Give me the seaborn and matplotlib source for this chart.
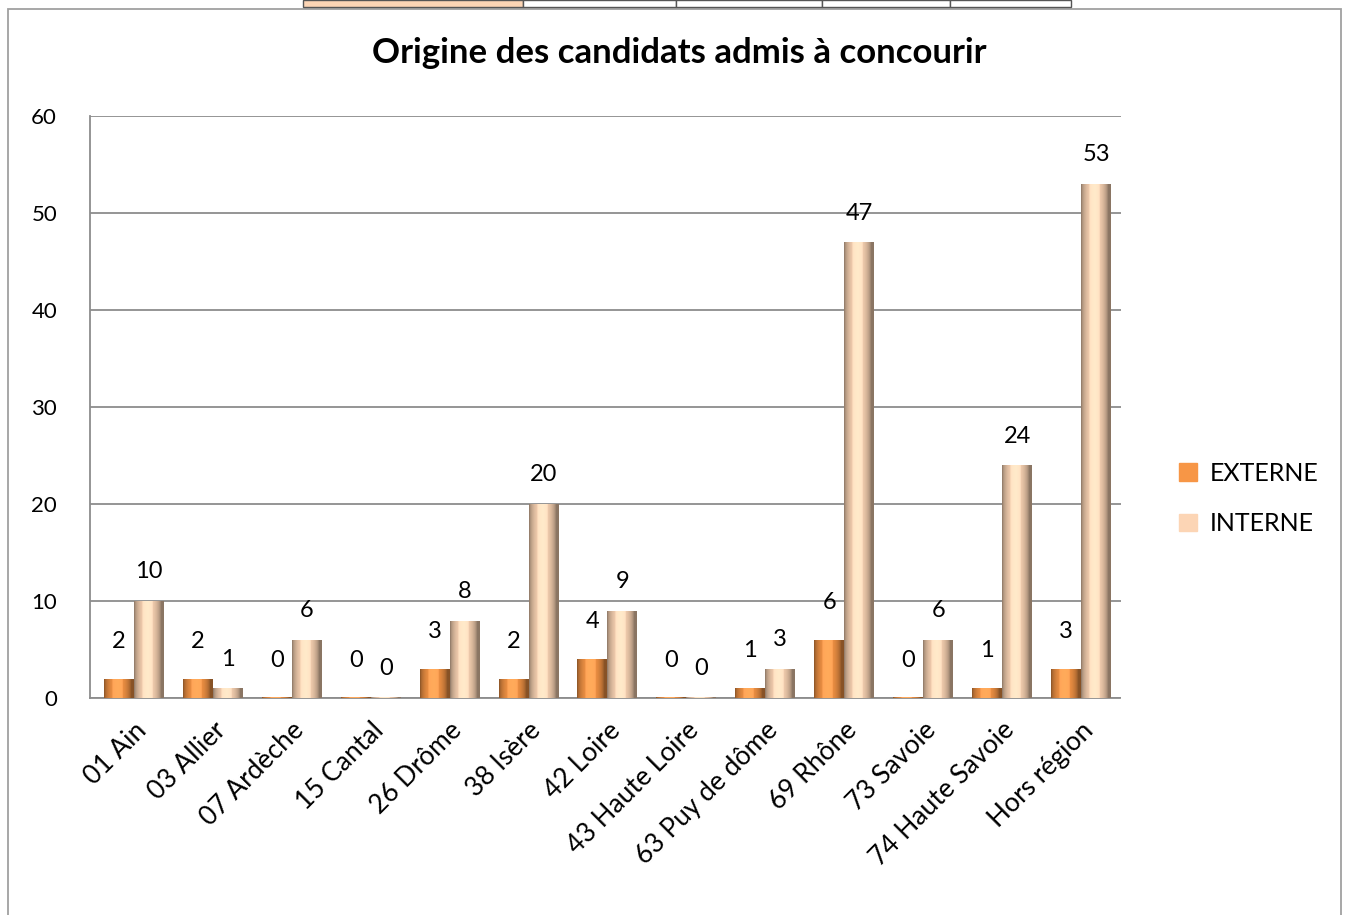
"""Origine des candidats admis à concourir - bar chart."""

import matplotlib
matplotlib.use('Agg')
import matplotlib.pyplot as plt
import numpy as np
import pandas as pd
import seaborn as sns
from matplotlib.patches import Rectangle

departements = ['01 Ain', '03 Allier', '07 Ardèche', '15 Cantal', '26 Drôme',
                '38 Isère', '42 Loire', '43 Haute Loire', '63 Puy de dôme',
                '69 Rhône', '73 Savoie', '74 Haute Savoie', 'Hors région']
externe = [2, 2, 0, 0, 3, 2, 4, 0, 1, 6, 0, 1, 3]
interne = [10, 1, 6, 0, 8, 20, 9, 0, 3, 47, 6, 24, 53]
series = ['EXTERNE', 'INTERNE']
colors = {'EXTERNE': '#f79646', 'INTERNE': '#fcd5b5'}

df = pd.DataFrame({
    'dept': departements * 2,
    'type': ['EXTERNE'] * len(departements) + ['INTERNE'] * len(departements),
    'n': externe + interne,
})

sns.set_style('white')
plt.rcParams['font.family'] = ['Lato', 'DejaVu Sans']
plt.rcParams['text.color'] = 'black'
plt.rcParams['xtick.color'] = 'black'
plt.rcParams['ytick.color'] = 'black'

fig = plt.figure(figsize=(13.5, 9.15), dpi=100)
ax = fig.add_axes([0.067, 0.237, 0.763, 0.636])

sns.barplot(data=df, x='dept', y='n', hue='type', palette=colors,
            width=0.76, gap=0, ax=ax, legend=False, saturation=1)

# cylinder-ish shading over each bar
grad = np.linspace(0, 1, 64)
shade = 0.55 + 0.45 * np.sin(np.pi * np.clip(grad * 1.1, 0, 1)) ** 0.6
for patch, typ in zip(ax.patches, ['EXTERNE'] * 13 + ['INTERNE'] * 13):
    base = np.array(matplotlib.colors.to_rgb(colors[typ]))
    img = np.clip(base[None, None, :] * shade[None, :, None] + 0.08 * (shade[None, :, None] > 0.95), 0, 1)
    x0, y0 = patch.get_x(), patch.get_y()
    w, h = patch.get_width(), max(patch.get_height(), 0.15)
    im = ax.imshow(img, extent=[x0, x0 + w, y0, y0 + h], aspect='auto', zorder=3)
    im.set_clip_path(Rectangle((x0, y0), w, h, transform=ax.transData))
    patch.set_visible(False)

# data labels
n = len(departements)
for i, (e, it) in enumerate(zip(externe, interne)):
    ax.annotate(str(e), (i - 0.19, e), xytext=(0, 27), textcoords='offset points',
                ha='center', va='center', fontsize=17, zorder=5)
    ax.annotate(str(it), (i + 0.19, it), xytext=(0, 21), textcoords='offset points',
                ha='center', va='center', fontsize=17, zorder=5)

ax.set_xlim(-0.55, n - 0.5)
ax.set_ylim(0, 60)
ax.set_yticks(range(0, 61, 10))
ax.yaxis.grid(True, color='#8c8c8c', linewidth=1.3)
ax.set_axisbelow(True)
ax.tick_params(axis='y', labelsize=16, length=0, pad=24)
ax.tick_params(axis='x', labelsize=19, length=0, pad=14)
plt.setp(ax.get_xticklabels(), rotation=45, ha='right', rotation_mode='anchor')
ax.set_xlabel('')
ax.set_ylabel('')
for side in ['top', 'right']:
    ax.spines[side].set_visible(False)
ax.spines['left'].set_color('#8c8c8c')
ax.spines['bottom'].set_color('#8c8c8c')
ax.spines['left'].set_linewidth(1.3)
ax.spines['bottom'].set_linewidth(1.3)

fig.suptitle('Origine des candidats admis à concourir', x=0.503, y=0.96,
             fontsize=25, fontweight='bold')

handles = [Rectangle((0, 0), 1, 1, color=colors[s]) for s in series]
fig.legend(handles, series, loc='center left', bbox_to_anchor=(0.857, 0.455),
           frameon=False, fontsize=18, handlelength=0.7, handleheight=0.7,
           labelspacing=1.1, handletextpad=0.5)

# chart border and the strip of table cells above it
fig.add_artist(Rectangle((0.006, -0.01), 0.987, 1.0, transform=fig.transFigure,
                         fill=False, edgecolor='#a0a0a0', linewidth=1.3))
fig.add_artist(Rectangle((303 / 1350, 1 - 7 / 915), 220 / 1350, 7 / 915,
                         transform=fig.transFigure, facecolor='#fcd5b5',
                         edgecolor='#555555', linewidth=1))
for x0, x1 in [(523, 676), (676, 822), (822, 950), (950, 1071)]:
    fig.add_artist(Rectangle((x0 / 1350, 1 - 7 / 915), (x1 - x0) / 1350, 7 / 915,
                             transform=fig.transFigure, facecolor='white',
                             edgecolor='#555555', linewidth=1))

fig.savefig('out.png', dpi=100)
